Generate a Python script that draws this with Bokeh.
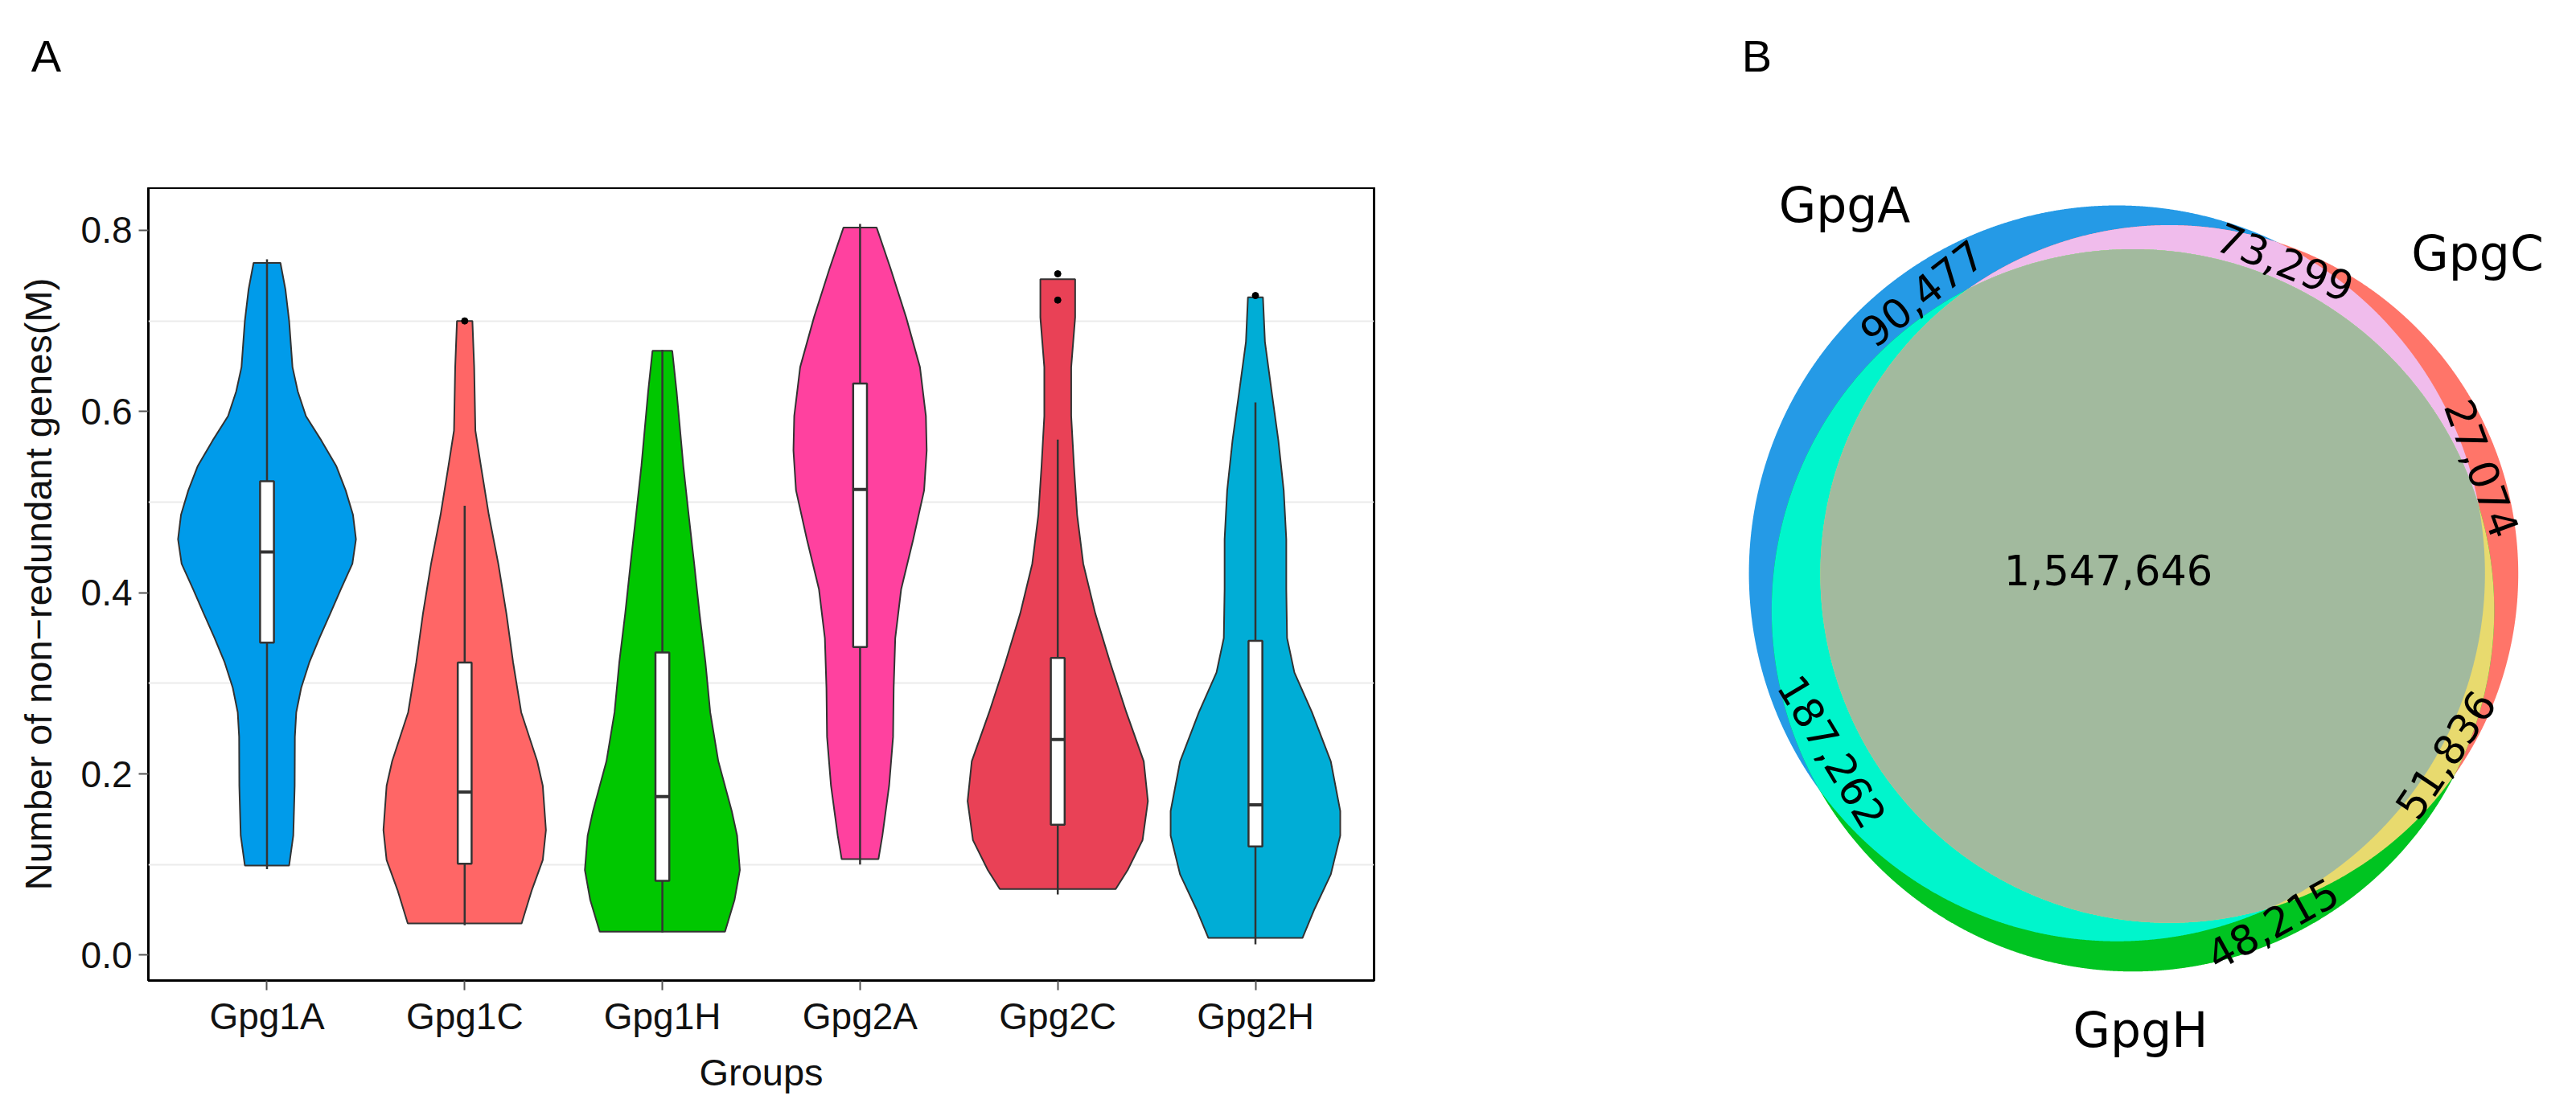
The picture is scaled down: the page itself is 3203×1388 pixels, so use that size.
import numpy as np
from bokeh.plotting import figure
from bokeh.layouts import row, column
from bokeh.models import Range1d, FixedTicker, PrintfTickFormatter
from bokeh.core.properties import value
from bokeh.embed import file_html
from bokeh.resources import INLINE

# ---------------- Panel A data ----------------
groups = ["Gpg1A", "Gpg1C", "Gpg1H", "Gpg2A", "Gpg2C", "Gpg2H"]
group_colors = ["#009BEA", "#FF6666", "#00C700", "#FF419F", "#E94156", "#00ADD6"]

# violin outlines: y levels (M, top to bottom) and half-widths (category units)
gpg1a_y = [0.764, 0.735, 0.70, 0.649, 0.622, 0.595, 0.568, 0.540, 0.513, 0.486, 0.459, 0.432, 0.404, 0.377, 0.350, 0.323, 0.295, 0.268, 0.241, 0.187, 0.132, 0.099]
gpg1a_w = [0.068, 0.093, 0.112, 0.129, 0.156, 0.197, 0.275, 0.350, 0.398, 0.435, 0.450, 0.432, 0.374, 0.320, 0.265, 0.214, 0.173, 0.148, 0.141, 0.140, 0.133, 0.112]

gpg1c_y = [0.700, 0.649, 0.579, 0.540, 0.486, 0.432, 0.377, 0.323, 0.268, 0.214, 0.187, 0.138, 0.105, 0.072, 0.035]
gpg1c_w = [0.039, 0.048, 0.054, 0.082, 0.122, 0.170, 0.211, 0.245, 0.286, 0.367, 0.395, 0.411, 0.395, 0.340, 0.288]

gpg1h_y = [0.667, 0.622, 0.540, 0.486, 0.432, 0.377, 0.323, 0.268, 0.214, 0.159, 0.132, 0.094, 0.061, 0.026]
gpg1h_w = [0.050, 0.072, 0.106, 0.133, 0.161, 0.188, 0.218, 0.242, 0.283, 0.351, 0.378, 0.392, 0.365, 0.317]

gpg2a_y = [0.803, 0.758, 0.704, 0.649, 0.595, 0.557, 0.513, 0.459, 0.404, 0.350, 0.295, 0.241, 0.187, 0.132, 0.106]
gpg2a_w = [0.084, 0.154, 0.233, 0.303, 0.333, 0.337, 0.324, 0.269, 0.208, 0.178, 0.170, 0.167, 0.147, 0.113, 0.093]

gpg2c_y = [0.746, 0.704, 0.649, 0.595, 0.540, 0.486, 0.432, 0.377, 0.323, 0.268, 0.214, 0.170, 0.127, 0.094, 0.073]
gpg2c_w = [0.088, 0.088, 0.068, 0.068, 0.082, 0.098, 0.129, 0.190, 0.265, 0.347, 0.435, 0.456, 0.429, 0.354, 0.293]

gpg2h_y = [0.726, 0.677, 0.622, 0.568, 0.513, 0.459, 0.404, 0.350, 0.312, 0.268, 0.214, 0.159, 0.132, 0.089, 0.051, 0.019]
gpg2h_w = [0.038, 0.048, 0.082, 0.116, 0.143, 0.156, 0.156, 0.160, 0.197, 0.286, 0.381, 0.429, 0.429, 0.381, 0.299, 0.238]

violin_y = [gpg1a_y, gpg1c_y, gpg1h_y, gpg2a_y, gpg2c_y, gpg2h_y]
violin_w = [gpg1a_w, gpg1c_w, gpg1h_w, gpg2a_w, gpg2c_w, gpg2h_w]

# box-plot statistics
whisker_low = [0.095, 0.033, 0.025, 0.100, 0.067, 0.012]
q1 = [0.345, 0.101, 0.082, 0.340, 0.144, 0.120]
median = [0.445, 0.180, 0.175, 0.514, 0.238, 0.166]
q3 = [0.523, 0.323, 0.334, 0.631, 0.328, 0.347]
whisker_high = [0.768, 0.496, 0.668, 0.807, 0.569, 0.610]
outlier_group = [2, 5, 5, 6]
outlier_value = [0.700, 0.752, 0.723, 0.728]

y_ticks = [0.0, 0.2, 0.4, 0.6, 0.8]
y_minor_grid = [0.1, 0.3, 0.5, 0.7]

# ---------------- Panel B data ----------------
set_names = ["GpgA", "GpgC", "GpgH"]
# region membership (A, C, H) and counts
region_members = [(0,), (1,), (2,), (0, 1), (0, 2), (1, 2), (0, 1, 2)]
region_counts = [90477, 27074, 48215, 73299, 187262, 51836, 1547646]
region_colors = ["#259AE6", "#FF7569", "#00C421", "#F0BCEC", "#00F5CC", "#E8DA6E", "#A2BA9E"]

FONT_A = "Liberation Sans"
FONT_B = "DejaVu Sans"

# ---------------- Panel A header (panel letter) ----------------
hdr = figure(width=1760, height=233, x_range=Range1d(0, 1760), y_range=Range1d(0, 233),
             output_backend="svg", toolbar_location=None, min_border=0,
             x_axis_location=None, y_axis_location=None, frame_align=False)
hdr.outline_line_color = None
hdr.grid.visible = False
hdr.text(x=[57], y=[164], text=["A"], text_align="center", text_baseline="alphabetic",
         text_font=value(FONT_A), text_font_size="56px", text_color="black")

# ---------------- Panel A ----------------
pA = figure(width=1760, height=1139, x_range=Range1d(0.4, 6.6), y_range=Range1d(-0.028, 0.847),
            output_backend="svg", toolbar_location=None, frame_align=False,
            min_border_left=184, min_border_right=52, min_border_top=0, min_border_bottom=153)
pA.outline_line_color = "black"
pA.outline_line_width = 3
pA.background_fill_color = "white"
pA.border_fill_color = "white"

pA.xgrid.visible = False
pA.ygrid.ticker = FixedTicker(ticks=y_minor_grid)
pA.ygrid.grid_line_color = "#EBEBEB"
pA.ygrid.grid_line_width = 2

for i in range(len(groups)):
    c = i + 1
    ys = np.array(violin_y[i])
    ws = np.array(violin_w[i])
    xs = np.concatenate([c + ws, (c - ws)[::-1]])
    yy = np.concatenate([ys, ys[::-1]])
    pA.patch(xs, yy, fill_color=group_colors[i], line_color="#333333", line_width=2)

cx = np.arange(1, len(groups) + 1)
bw = 0.035
pA.segment(x0=cx, y0=whisker_low, x1=cx, y1=whisker_high, line_color="#333333", line_width=2.5)
pA.quad(left=cx - bw, right=cx + bw, bottom=q1, top=q3, fill_color="white",
        line_color="#333333", line_width=2.5)
pA.segment(x0=cx - bw, y0=median, x1=cx + bw, y1=median, line_color="#333333", line_width=4)
pA.scatter(x=outlier_group, y=outlier_value, size=8, color="black")

pA.xaxis.ticker = FixedTicker(ticks=list(cx))
pA.xaxis.major_label_overrides = {int(c): g for c, g in zip(cx, groups)}
pA.yaxis.ticker = FixedTicker(ticks=y_ticks)
pA.yaxis.formatter = PrintfTickFormatter(format="%.1f")
pA.xaxis.axis_label = "Groups"
pA.yaxis.axis_label = "Number of non\u2212redundant genes(M)"
for ax in (pA.xaxis[0], pA.yaxis[0]):
    ax.axis_line_color = None
    ax.minor_tick_line_color = None
    ax.major_tick_line_color = "#555555"
    ax.major_tick_line_width = 2
    ax.major_tick_out = 12
    ax.major_tick_in = 0
    ax.major_label_text_font = FONT_A
    ax.major_label_text_font_size = "46px"
    ax.major_label_text_color = "#111111"
    ax.axis_label_text_font = FONT_A
    ax.axis_label_text_font_size = "47px"
    ax.axis_label_text_font_style = "normal"
    ax.axis_label_text_color = "#111111"
pA.xaxis.major_label_standoff = 6
pA.xaxis.axis_label_standoff = 14
pA.yaxis.major_label_standoff = 8
pA.yaxis.axis_label_standoff = 24

# ---------------- Panel B ----------------
pB = figure(width=1427, height=1372, x_range=Range1d(0, 1427), y_range=Range1d(0, 1372),
            output_backend="svg", toolbar_location=None, min_border=0, frame_align=False,
            x_axis_location=None, y_axis_location=None)
pB.outline_line_color = None
pB.grid.visible = False

# circle layout (pixels in this panel): A, C, H
circle_cx = [871.7, 936.8, 891.6]
circle_cy = [659.4, 658.6, 613.4]
circle_r = [457.6, 433.9, 449.2]


def region_polygon(members):
    th = np.linspace(0, 2 * np.pi, 2880, endpoint=False)
    pts = []
    for k in members:
        px = circle_cx[k] + circle_r[k] * np.cos(th)
        py = circle_cy[k] + circle_r[k] * np.sin(th)
        mask = np.ones(px.shape, dtype=bool)
        for j in members:
            if j == k:
                continue
            mask &= (px - circle_cx[j]) ** 2 + (py - circle_cy[j]) ** 2 <= circle_r[j] ** 2 + 1e-6
        pts.append(np.c_[px[mask], py[mask]])
    pts = np.vstack(pts)
    mx, my = pts.mean(axis=0)
    order = np.argsort(np.arctan2(pts[:, 1] - my, pts[:, 0] - mx))
    return list(pts[order, 0]), list(pts[order, 1])


polys_x, polys_y = [], []
for mem in region_members:
    xs, ys = region_polygon(mem)
    polys_x.append(xs)
    polys_y.append(ys)
pB.patches(xs=polys_x, ys=polys_y, fill_color=region_colors, line_color=None)

# label layout (position in panel pixels, rotation in degrees)
count_label_x = [629, 1326, 1065, 1081, 518, 1280, 861]
count_label_y = [1008, 790, 224, 1047, 438, 434, 664]
count_label_angle = [38, -70, 29, -22, -59, 56, 0]
pB.text(x=count_label_x, y=count_label_y, text=[f"{n:,}" for n in region_counts],
        angle=count_label_angle, angle_units="deg", text_align="center", text_baseline="middle",
        text_font=value(FONT_B), text_font_size="51px", text_color="black")

set_label_x = [533, 1320, 901]
set_label_y = [1118, 1058, 92]
pB.text(x=set_label_x, y=set_label_y, text=set_names, text_align="center", text_baseline="middle",
        text_font=value(FONT_B), text_font_size="60px", text_color="black")

pB.text(x=[424], y=[1303], text=["B"], text_align="center", text_baseline="alphabetic",
        text_font=value(FONT_A), text_font_size="56px", text_color="black")

layout = row(column(hdr, pA), pB)
open("out.html", "w").write(file_html(layout, INLINE))
